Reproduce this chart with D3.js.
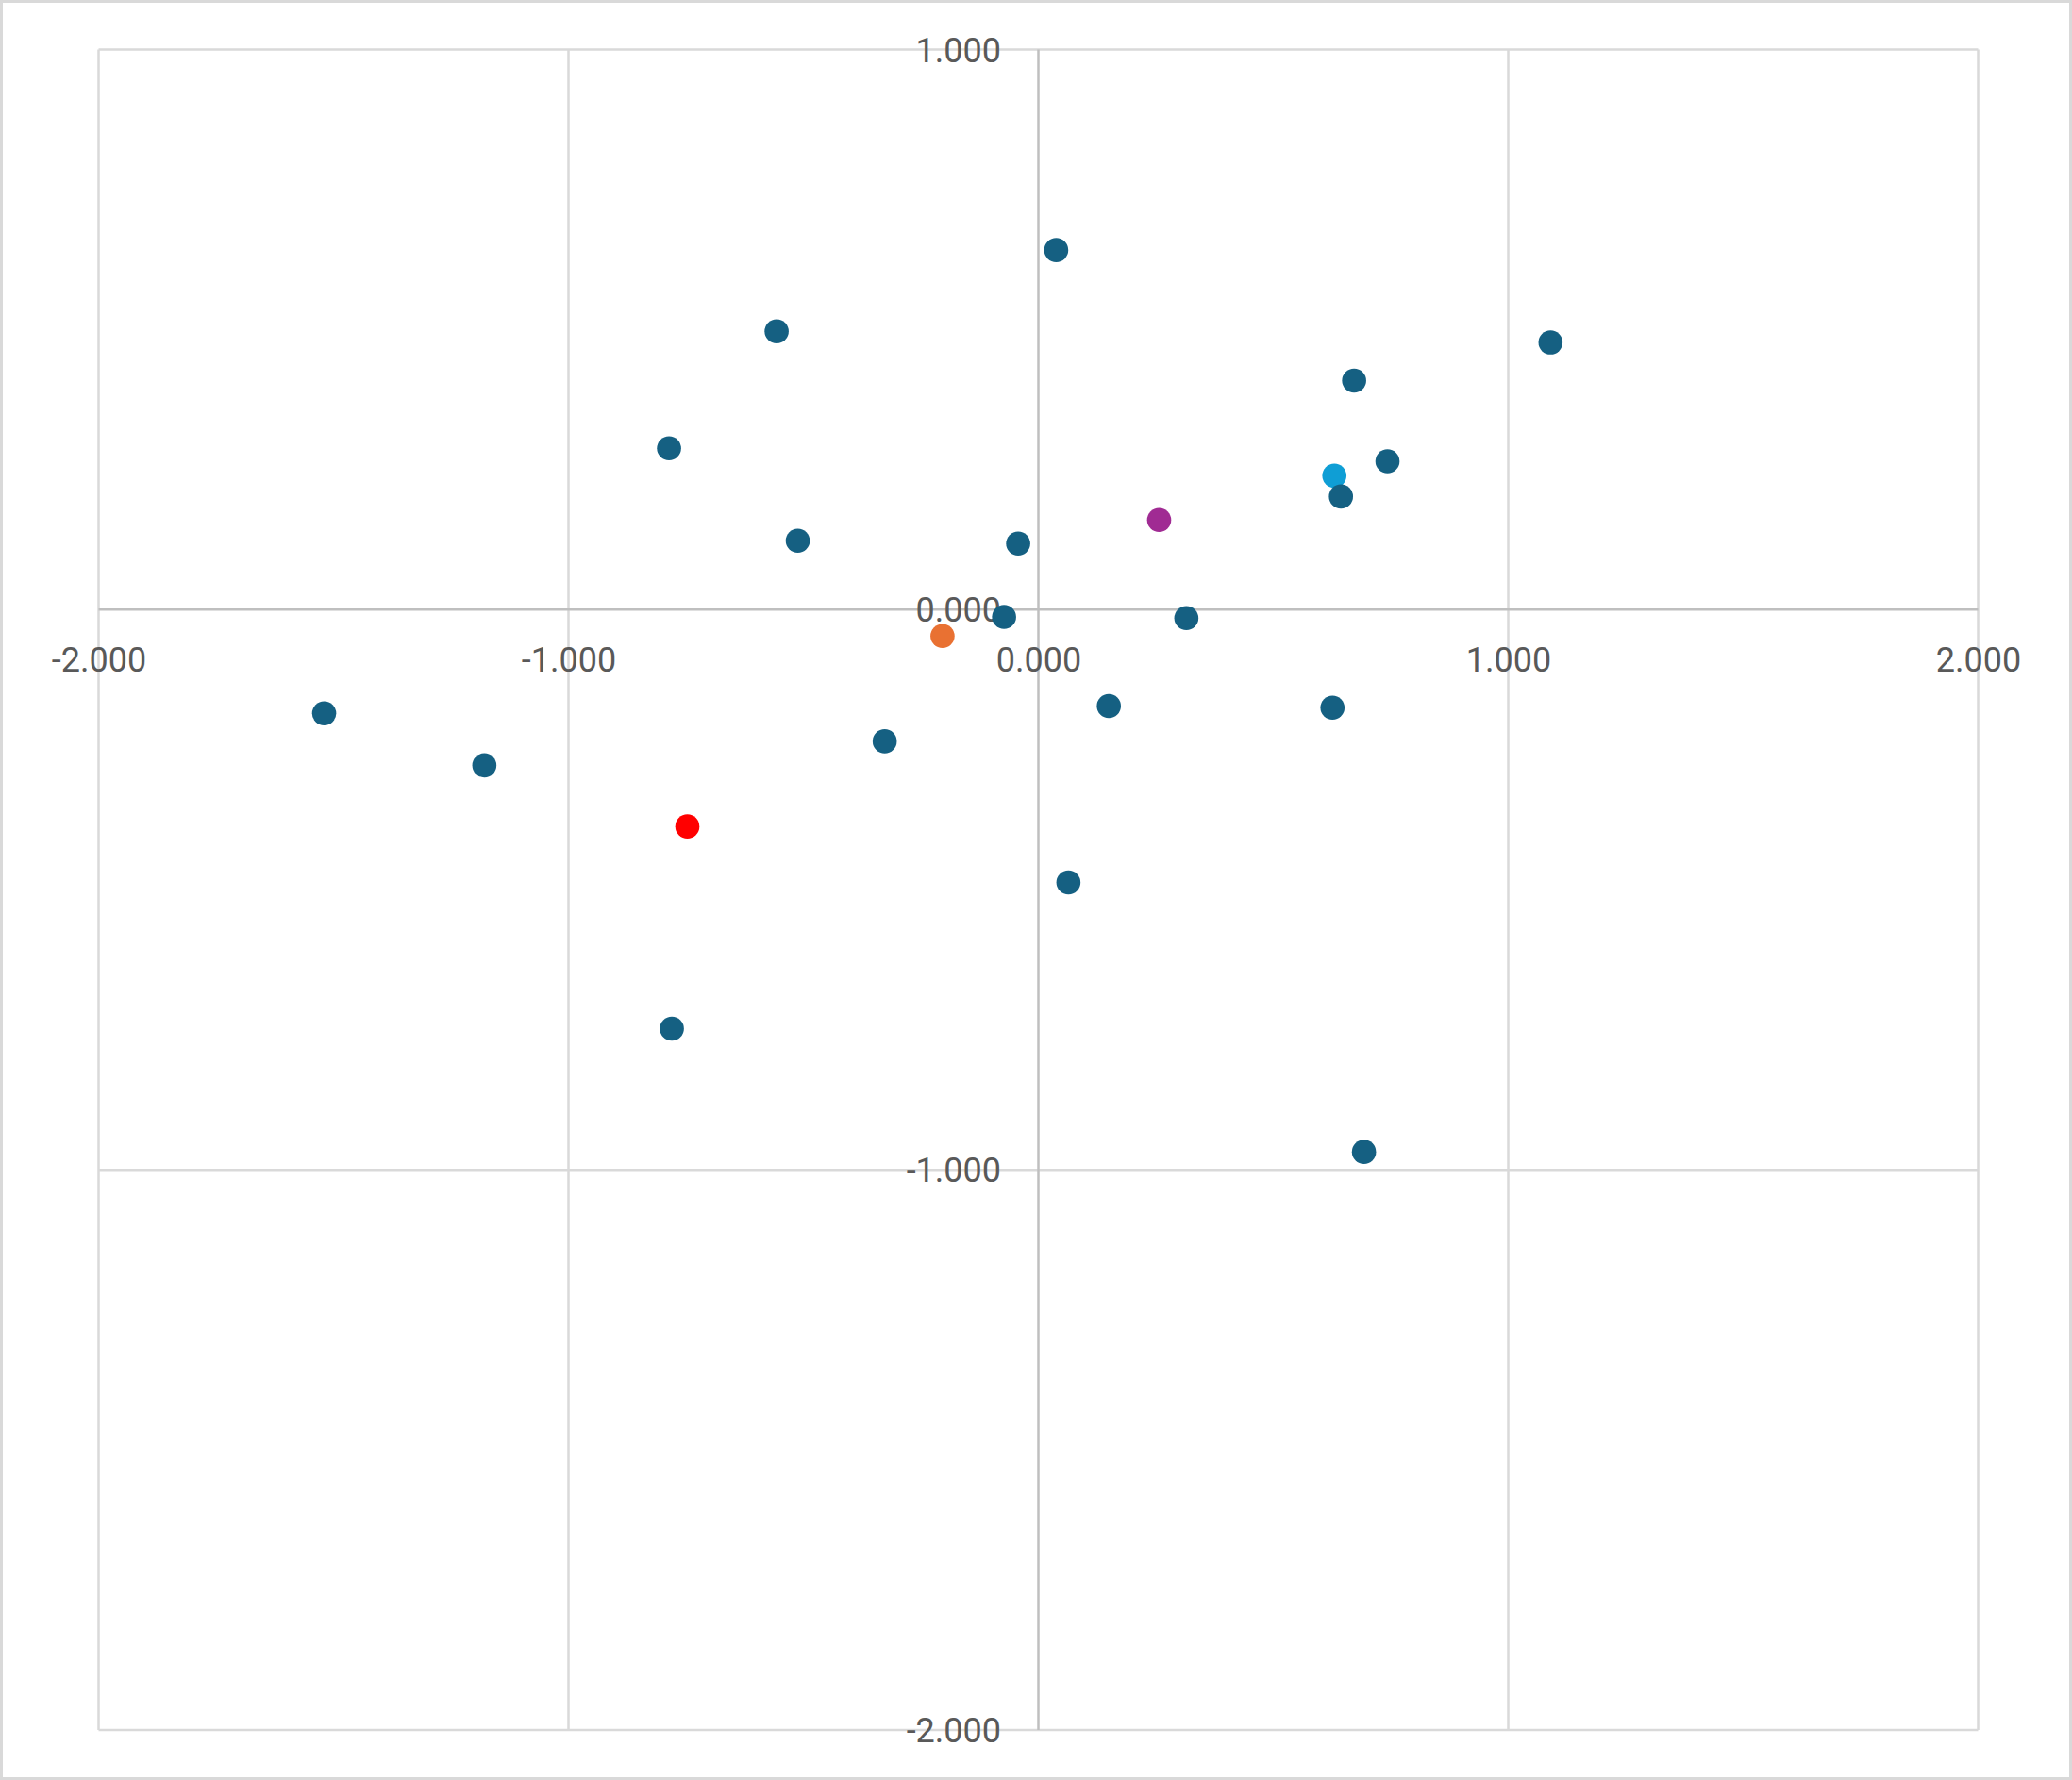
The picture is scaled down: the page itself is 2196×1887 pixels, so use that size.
<!DOCTYPE html>
<html>
<head>
<meta charset="utf-8">
<script src="https://cdn.jsdelivr.net/npm/d3@7"></script>
<style>
  html, body { margin: 0; padding: 0; background: #ffffff; }
  svg { display: block; }
</style>
</head>
<body>
<svg id="chart" width="2196" height="1887"></svg>
<script>
// ---- data ----
const xValues = [0.038, -0.557, 1.090, 0.672, -0.786, 0.743, 0.630, 0.644, 0.257, -0.512,
                 -0.043, -0.073, 0.315, -0.204, -1.520, 0.150, 0.626, -0.327, -1.179, -0.747,
                 0.064, -0.780, 0.693];
const yValues = [0.642, 0.497, 0.477, 0.409, 0.288, 0.265, 0.239, 0.202, 0.160, 0.123,
                 0.118, -0.013, -0.015, -0.047, -0.185, -0.172, -0.175, -0.235, -0.278, -0.387,
                 -0.487, -0.748, -0.968];
const pointGroups = ["base", "base", "base", "base", "base", "base", "lightblue", "base", "purple", "base",
                     "base", "base", "base", "orange", "base", "base", "base", "base", "base", "red",
                     "base", "base", "base"];
const xTicks = [-2, -1, 0, 1, 2];
const yTicks = [-2, -1, 0, 1];
const xDomain = [-2, 2];
const yDomain = [-2, 1];

// ---- styles ----
const groupColor = {
  base: "#156082",
  lightblue: "#0F9ED5",
  purple: "#A02B93",
  orange: "#E97132",
  red: "#FF0000"
};
const drawOrder = { lightblue: 0, purple: 0, orange: 0, red: 0, base: 1 };

const svg = d3.select("#chart");
const W = 2196, H = 1887;
const plot = { left: 104.5, right: 2096.5, top: 52.5, bottom: 1834 };

// outer chart border
svg.append("rect")
  .attr("x", 1.5).attr("y", 1.5)
  .attr("width", W - 3).attr("height", H - 3)
  .attr("fill", "#ffffff")
  .attr("stroke", "#d9d9d9")
  .attr("stroke-width", 3);

const x = d3.scaleLinear().domain(xDomain).range([plot.left, plot.right]);
const y = d3.scaleLinear().domain(yDomain).range([plot.bottom, plot.top]);

// gridlines
const grid = svg.append("g");
grid.selectAll("line.gx").data(xTicks.filter(d => d !== 0)).join("line")
  .attr("x1", d => x(d)).attr("x2", d => x(d))
  .attr("y1", plot.top).attr("y2", plot.bottom)
  .attr("stroke", "#d9d9d9").attr("stroke-width", 2.5);
grid.selectAll("line.gy").data(yTicks.filter(d => d !== 0)).join("line")
  .attr("x1", plot.left).attr("x2", plot.right)
  .attr("y1", d => y(d)).attr("y2", d => y(d))
  .attr("stroke", "#d9d9d9").attr("stroke-width", 2.5);

// axes lines at zero
svg.append("line")
  .attr("x1", plot.left).attr("x2", plot.right)
  .attr("y1", y(0)).attr("y2", y(0))
  .attr("stroke", "#bfbfbf").attr("stroke-width", 2.5);
svg.append("line")
  .attr("x1", x(0)).attr("x2", x(0))
  .attr("y1", plot.top).attr("y2", plot.bottom)
  .attr("stroke", "#bfbfbf").attr("stroke-width", 2.5);

const fmt = d => d.toFixed(3);

// y axis labels
const yAxis = svg.append("g")
  .attr("transform", `translate(${x(0)},0)`)
  .call(d3.axisLeft(y).tickValues(yTicks).tickFormat(fmt).tickSize(0).tickPadding(39.5));
yAxis.select(".domain").remove();
yAxis.selectAll("text")
  .attr("dy", "0.35em")
  .attr("fill", "#595959")
  .style("font-family", "Roboto, 'Open Sans', sans-serif")
  .style("font-size", "36px");

// x axis labels
const xAxis = svg.append("g")
  .attr("transform", `translate(0,${y(0)})`)
  .call(d3.axisBottom(x).tickValues(xTicks).tickFormat(fmt).tickSize(0));
xAxis.select(".domain").remove();
xAxis.selectAll("text")
  .attr("y", 52.7)
  .attr("dy", "0.35em")
  .attr("fill", "#595959")
  .style("font-family", "Roboto, 'Open Sans', sans-serif")
  .style("font-size", "36px");

// points
const pts = xValues.map((v, i) => ({ x: v, y: yValues[i], g: pointGroups[i] }))
  .sort((a, b) => drawOrder[a.g] - drawOrder[b.g]);
svg.append("g").selectAll("circle").data(pts).join("circle")
  .attr("cx", d => x(d.x))
  .attr("cy", d => y(d.y))
  .attr("r", 12.8)
  .attr("fill", d => groupColor[d.g]);
</script>
</body>
</html>
